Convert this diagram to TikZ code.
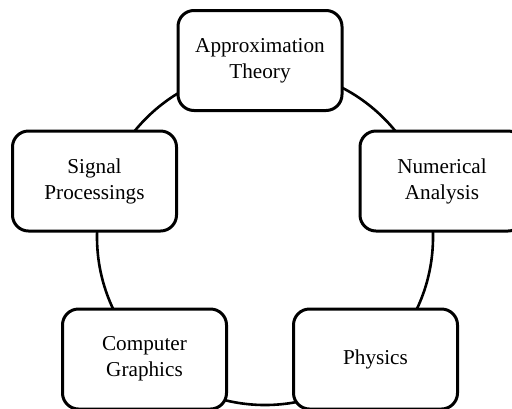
\documentclass[tikz,border=0pt]{standalone}
\usepackage{fontspec}
\setmainfont{Liberation Serif}
\usetikzlibrary{shapes,positioning}

\tikzset{
	field/.style={draw, line width=1.5pt, rounded corners=8pt, fill=white,
		minimum width=82pt, minimum height=50pt, align=center,
		font=\fontsize{10.6}{13}\selectfont}
}

\begin{document}
\begin{tikzpicture}[x=0.5pt,y=-0.5pt]
	\useasboundingbox (0,0) rectangle (512,408);
	\clip (0,0) rectangle (512,408);

	% ring behind the fields
	\node[circle, draw, line width=1.3pt, minimum size=168pt, inner sep=0pt] (ring) at (265,237) {};

	\node[field] (approx) at (260,60.5) {Approximation\\Theory};
	\node[field] (signal) at (94.5,181) {Signal\\Processings};
	\node[field] (numer) at (442,181) {Numerical\\Analysis};
	\node[field] (graph) at (144.5,359) {Computer\\Graphics};
	\node[field] (phys) at (375.5,359) {Physics};
\end{tikzpicture}
\end{document}
